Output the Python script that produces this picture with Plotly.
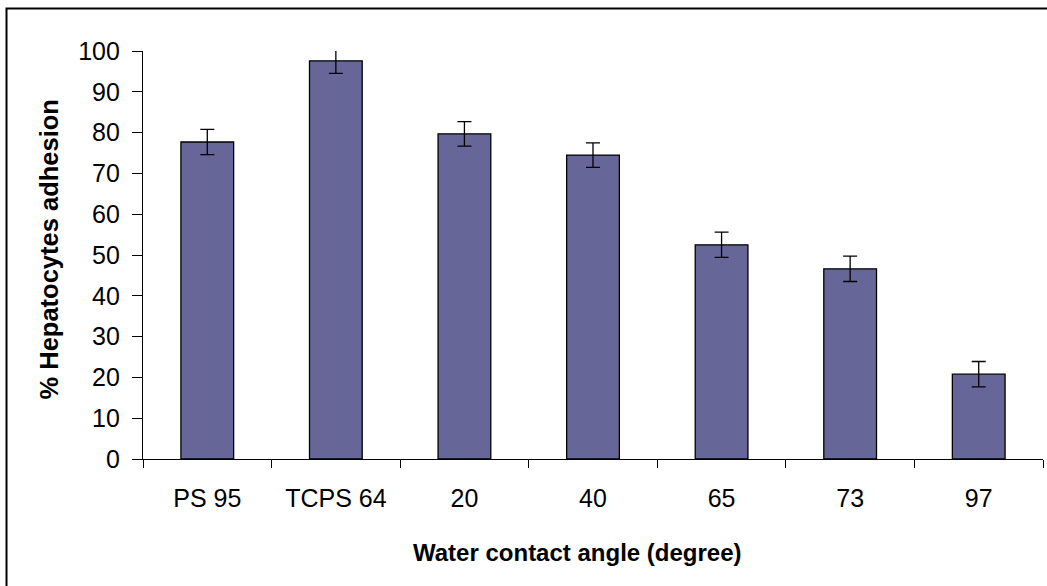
import plotly.graph_objects as go

categories = ["PS 95", "TCPS 64", "20", "40", "65", "73", "97"]
adhesion = [77.7, 97.6, 79.7, 74.5, 52.5, 46.6, 20.8]
errors = [3.1, 3.1, 3.0, 3.0, 3.1, 3.1, 3.1]
y_ticks = [0, 10, 20, 30, 40, 50, 60, 70, 80, 90, 100]

FONT = "Liberation Sans, Arial, sans-serif"

fig = go.Figure()
fig.add_trace(go.Bar(
    x=categories, y=adhesion,
    marker=dict(color="#666699", line=dict(color="black", width=1.3)),
    error_y=dict(type="data", array=errors, visible=True,
                 color="black", thickness=1.3, width=7),
    cliponaxis=False,
    showlegend=False,
))

W, H = 1047, 586
L, R, T, B = 143, 4, 51, 127
pw, ph = W - L - R, H - T - B

def px_x(p):
    return (p - L) / pw

def px_y(p):
    return (H - B - p) / ph

fig.update_layout(
    width=W, height=H,
    margin=dict(l=L, r=R, t=T, b=B),
    paper_bgcolor="white", plot_bgcolor="white",
    bargap=0.59,
    font=dict(family=FONT, color="black", size=25),
    xaxis=dict(
        showline=True, linecolor="black", linewidth=1.3,
        ticks="outside", ticklen=8, tickwidth=1.3, tickcolor="black",
        tickson="boundaries", ticklabelstandoff=17,
        tickfont=dict(size=25, family=FONT),
        showgrid=False, zeroline=False,
    ),
    yaxis=dict(
        range=[0, 100], tickvals=y_ticks,
        showline=True, linecolor="black", linewidth=1.3,
        ticks="outside", ticklen=10, tickwidth=1.3, tickcolor="black",
        ticklabelstandoff=7,
        tickfont=dict(size=25, family=FONT),
        showgrid=False, zeroline=False,
    ),
    annotations=[
        dict(text="<b>Water contact angle (degree)</b>", xref="paper", yref="paper",
             x=px_x(577), y=px_y(552), xanchor="center", yanchor="middle",
             showarrow=False, font=dict(size=24, family=FONT, color="black")),
        dict(text="<b>% Hepatocytes adhesion</b>", xref="paper", yref="paper",
             x=px_x(48), y=px_y(249.5), xanchor="center", yanchor="middle",
             textangle=-90, showarrow=False,
             font=dict(size=25.5, family=FONT, color="black")),
    ],
    shapes=[
        dict(type="rect", xref="paper", yref="paper",
             x0=px_x(6.5), y1=px_y(8.5), x1=px_x(1200), y0=px_y(800),
             line=dict(color="black", width=2), fillcolor="rgba(0,0,0,0)", layer="below"),
    ],
)

fig.write_html("out.html")
